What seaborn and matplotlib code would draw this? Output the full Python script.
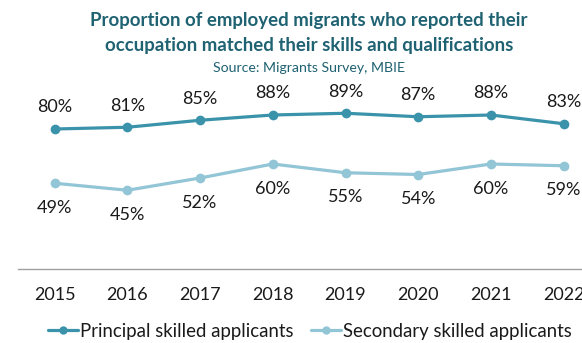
import matplotlib
matplotlib.use("Agg")
import matplotlib.pyplot as plt
from matplotlib.lines import Line2D
from matplotlib.ticker import FixedLocator
import seaborn as sns
import pandas as pd

# Survey years and the share (%) whose occupation matched their skills
years = [2015, 2016, 2017, 2018, 2019, 2020, 2021, 2022]
principal = [80, 81, 85, 88, 89, 87, 88, 83]
secondary = [49, 45, 52, 60, 55, 54, 60, 59]
series_names = ["Principal skilled applicants", "Secondary skilled applicants"]

title_lines = ["Proportion of employed migrants who reported their",
               "occupation matched their skills and qualifications"]
subtitle = "Source: Migrants Survey, MBIE"

dark_teal = "#3A93AA"
light_teal = "#92C5D6"
title_color = "#1F6272"
text_color = "#1A1A1A"
axis_gray = "#A0A0A0"

df = pd.DataFrame({
    "year": years * 2,
    "value": principal + secondary,
    "series": [series_names[0]] * len(years) + [series_names[1]] * len(years),
})

sns.set_theme(style="white")
plt.rcParams["font.family"] = ["Lato", "DejaVu Sans"]

W, H, DPI = 582, 343, 100
fig = plt.figure(figsize=(W / DPI, H / DPI), dpi=DPI)
fig.patch.set_facecolor("white")

# plot area runs past the right edge of the canvas
ax_left, ax_right, ax_bottom, ax_top = 18.3, 600.0, 269.0, 94.0
ax = fig.add_axes([ax_left / W, 1 - ax_bottom / H,
                   (ax_right - ax_left) / W, (ax_bottom - ax_top) / H])

palette = {series_names[0]: dark_teal, series_names[1]: light_teal}
sns.lineplot(data=df, x="year", y="value", hue="series", palette=palette,
             marker="o", markersize=7, markeredgewidth=0, linewidth=2.3,
             legend=False, ax=ax)

ax.set_xlim(years[0] - 0.5, years[-1] + 0.5)
ax.set_ylim(0, 100)

label_size = 13
for x, v in zip(years, principal):
    ax.annotate(f"{v}%", (x, v), xytext=(0, 15.5), textcoords="offset points",
                ha="center", va="center", fontsize=label_size, color=text_color)
for x, v in zip(years, secondary):
    ax.annotate(f"{v}%", (x, v), xytext=(0, -17.8), textcoords="offset points",
                ha="center", va="center", fontsize=label_size, color=text_color)

for side in ("left", "right", "top"):
    ax.spines[side].set_visible(False)
ax.spines["bottom"].set_color(axis_gray)
ax.spines["bottom"].set_linewidth(1.0)
ax.set_yticks([])
ax.set_xticks(years)
ax.set_xticklabels([str(y) for y in years], fontsize=label_size, color=text_color)
ax.tick_params(axis="x", which="major", length=0, pad=13)
ax.xaxis.set_minor_locator(FixedLocator([y - 0.5 for y in years] + [years[-1] + 0.5]))
ax.tick_params(axis="x", which="minor", length=5, width=1.0, color=axis_gray,
               direction="out")
ax.set_xlabel("")
ax.set_ylabel("")

# title lines placed on their own baselines
title_x = 309 / W
for line, base in zip(title_lines, (26.3, 50.7)):
    fig.text(title_x, 1 - base / H, line, ha="center", va="baseline",
             fontsize=13.4, fontweight="bold", color=title_color)
fig.text(title_x, 1 - 71.7 / H, subtitle, ha="center", va="baseline",
         fontsize=10.2, color=title_color)

handles = [Line2D([], [], color=dark_teal, marker="o", markersize=6,
                  markeredgewidth=0, linewidth=2.3),
           Line2D([], [], color=light_teal, marker="o", markersize=6,
                  markeredgewidth=0, linewidth=2.3)]
fig.legend(handles, series_names, loc="center", ncol=2, frameon=False,
           bbox_to_anchor=(310 / W, 1 - 331.5 / H), fontsize=13.4,
           handlelength=1.6, handletextpad=0.15, columnspacing=0.9,
           labelcolor=text_color, borderpad=0, borderaxespad=0)

fig.savefig("out.png", dpi=DPI, facecolor="white")
